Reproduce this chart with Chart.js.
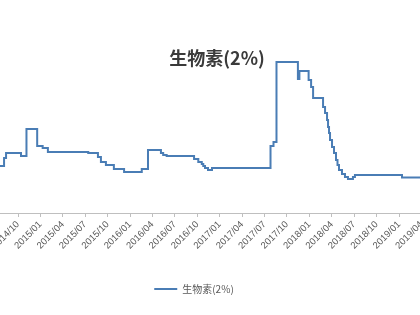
<!DOCTYPE html>
<html>
<head>
<meta charset="utf-8">
<script src="https://cdn.jsdelivr.net/npm/chart.js@4.4.1/dist/chart.umd.min.js"></script>
<style>
  html, body { margin: 0; padding: 0; background: #fff; }
  #wrap { width: 420px; height: 315px; position: relative; overflow: hidden; }
</style>
</head>
<body>
<div id="wrap"><canvas id="chart"></canvas></div>
<script>
  // Data - biotin 2% price (step series)
  const seriesName = '生物素(2%)';
  const tickLabels = ['2014/10', '2015/01', '2015/04', '2015/07', '2015/10', '2016/01', '2016/04', '2016/07', '2016/10',
    '2017/01', '2017/04', '2017/07', '2017/10', '2018/01', '2018/04', '2018/07', '2018/10', '2019/01', '2019/04'];
  const dates = ['2014-06-28', '2014-08-05', '2014-08-13', '2014-10-13', '2014-11-05', '2014-12-18', '2015-01-10', '2015-02-01',
    '2015-07-13', '2015-08-22', '2015-09-04', '2015-09-24', '2015-10-26', '2015-12-07', '2016-02-18', '2016-03-13',
    '2016-05-05', '2016-05-14', '2016-05-28', '2016-09-18', '2016-10-05', '2016-10-19', '2016-10-25', '2016-11-02',
    '2016-11-14', '2016-11-30', '2017-07-25', '2017-08-07', '2017-08-19', '2017-11-15', '2017-11-21', '2017-12-28',
    '2018-01-08', '2018-01-16', '2018-02-26', '2018-03-04', '2018-03-12', '2018-03-16', '2018-03-20', '2018-03-24',
    '2018-04-02', '2018-04-10', '2018-04-18', '2018-04-24', '2018-04-30', '2018-05-12', '2018-05-24', '2018-06-06',
    '2018-06-26', '2018-07-04', '2019-01-13', '2019-04-15'];
  const prices = [94, 110, 120, 114, 168, 134, 130, 122,
    120, 112, 102, 96, 88, 82, 88, 126,
    120, 116, 114, 108, 102, 98, 94, 90,
    86, 90, 134, 142, 302, 268, 284, 266,
    252, 230, 212, 200, 186, 172, 160, 146,
    132, 120, 106, 96, 86, 78, 72, 68,
    72, 76, 71, 71];

  // months counted from 2014/01
  const monthIndex = (s) => {
    const [y, m, d] = s.split(/[-\/]/).map(Number);
    return (y - 2014) * 12 + (m - 1) + ((d || 1) - 1) / 30;
  };
  const tickValues = tickLabels.map(monthIndex);
  const points = dates.map((d, i) => ({ x: monthIndex(d), y: prices[i] }));

  // shift title / legend to where they sit in the cropped original
  const nudge = {
    id: 'nudge',
    afterLayout(chart) {
      if (chart.titleBlock) { chart.titleBlock.left += 7; chart.titleBlock.right += 7; }
      if (chart.legend) { chart.legend.left -= 16; chart.legend.right -= 16; }
    }
  };

  const ctx = document.getElementById('chart').getContext('2d');
  const chart = new Chart(ctx, {
    type: 'line',
    data: {
      datasets: [{
        label: seriesName,
        data: points,
        borderColor: '#4a7db5',
        backgroundColor: '#4a7db5',
        borderWidth: 2,
        pointRadius: 0,
        stepped: true,
        tension: 0
      }]
    },
    plugins: [nudge],
    options: {
      responsive: true,
      maintainAspectRatio: false,
      animation: false,
      devicePixelRatio: 1,
      layout: { padding: { left: 0, right: 0, top: 0, bottom: 11 } },
      plugins: {
        title: {
          display: true,
          text: seriesName,
          color: '#3a3a3a',
          font: { family: '"Noto Sans CJK SC", sans-serif', size: 18, weight: 'bold' },
          padding: { top: 47, bottom: -55.6 }
        },
        legend: {
          position: 'bottom',
          labels: {
            usePointStyle: true,
            pointStyle: 'line',
            pointStyleWidth: 23,
            color: '#595959',
            padding: 10,
            font: { family: '"Noto Sans CJK SC", sans-serif', size: 10 }
          }
        },
        tooltip: { enabled: false }
      },
      scales: {
        x: {
          type: 'linear',
          min: 6.59,
          max: 62.81,
          afterBuildTicks: (scale) => {
            scale.ticks = tickValues.map(v => ({ value: v }));
          },
          afterFit: (scale) => {
            scale.paddingLeft = 0;
            scale.paddingRight = 0;
            scale.height = 61;
          },
          grid: { drawOnChartArea: false, drawTicks: true, tickLength: 4, color: '#bfbfbf' },
          border: { color: '#bfbfbf', width: 1 },
          ticks: {
            autoSkip: false,
            minRotation: 45,
            maxRotation: 45,
            padding: 2,
            color: '#595959',
            font: { family: '"Liberation Sans", sans-serif', size: 9.5 },
            callback: (value) => {
              const i = tickValues.findIndex(v => Math.abs(v - value) < 0.01);
              return i >= 0 ? tickLabels[i] : '';
            }
          }
        },
        y: {
          display: false,
          min: 0,
          max: 400
        }
      }
    }
  });
</script>
</body>
</html>
